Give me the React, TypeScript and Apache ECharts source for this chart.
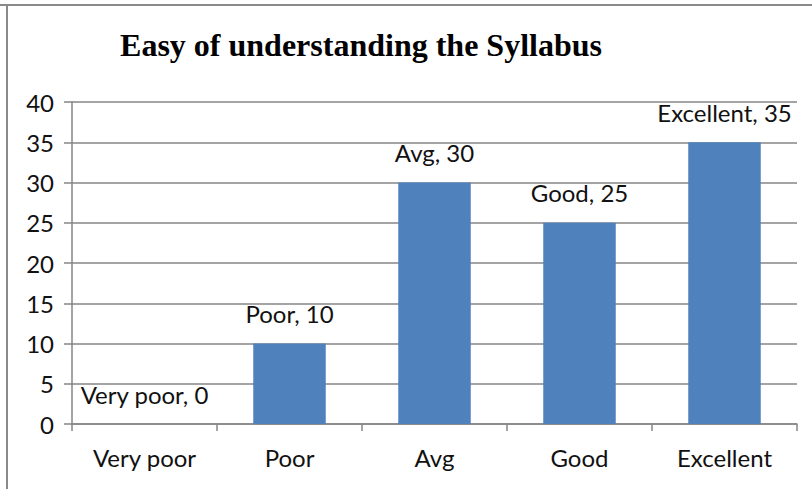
import React, { useEffect, useRef } from "react";
import * as echarts from "echarts";

const categories = ["Very poor", "Poor", "Avg", "Good", "Excellent"];
const values = [0, 10, 30, 25, 35];
const yTicks = [0, 5, 10, 15, 20, 25, 30, 35, 40];

export default function App() {
  const ref = useRef<HTMLDivElement>(null);
  useEffect(() => {
    const chart = echarts.init(ref.current!, null, { renderer: "svg" });
    const font = "Lato, 'Open Sans', sans-serif";
    chart.setOption({
      animation: false,
      backgroundColor: "#ffffff",
      title: {
        text: "Easy of understanding the Syllabus",
        left: 356,
        top: 24,
        textAlign: "center",
        textStyle: {
          fontFamily: "'Liberation Serif', 'Times New Roman', serif",
          fontWeight: "bold",
          fontSize: 32,
          color: "#000",
        },
      },
      graphic: [
        { type: "line", shape: { x1: 0, y1: 5, x2: 812, y2: 5 }, style: { stroke: "#8a8a8a", lineWidth: 2 } },
        { type: "line", shape: { x1: 7, y1: 5, x2: 7, y2: 489 }, style: { stroke: "#8a8a8a", lineWidth: 2 } },
      ],
      grid: { left: 72, right: 15, top: 102, bottom: 65, containLabel: false },
      xAxis: {
        type: "category",
        data: categories,
        axisLine: { lineStyle: { color: "#868686", width: 1.5 } },
        axisTick: { show: true, alignWithLabel: false, length: 7, lineStyle: { color: "#868686", width: 1.5 } },
        axisLabel: { fontFamily: font, fontSize: 24, color: "#111", margin: 21 },
        splitLine: { show: false },
      },
      yAxis: {
        type: "value",
        min: 0,
        max: 40,
        interval: 5,
        axisLine: { show: true, lineStyle: { color: "#868686", width: 1.5 } },
        axisTick: { show: true, length: 8, lineStyle: { color: "#868686", width: 1.5 } },
        axisLabel: {
          fontFamily: font,
          fontSize: 24,
          color: "#111",
          margin: 18,
          formatter: (v: number) => (yTicks.includes(v) ? String(v) : ""),
        },
        splitLine: { show: true, lineStyle: { color: "#868686", width: 1.5 } },
      },
      series: [
        {
          type: "bar",
          data: values,
          barWidth: "50%",
          itemStyle: { color: "#4F81BD" },
          label: {
            show: true,
            position: "top",
            distance: 18,
            fontFamily: font,
            fontSize: 24,
            color: "#111",
            formatter: (p: any) => `${categories[p.dataIndex]}, ${p.value}`,
          },
        },
      ],
    });
    return () => chart.dispose();
  }, []);
  return (
    <div
      ref={ref}
      style={{ position: "fixed", left: 0, top: 0, width: 812, height: 489 }}
    />
  );
}
